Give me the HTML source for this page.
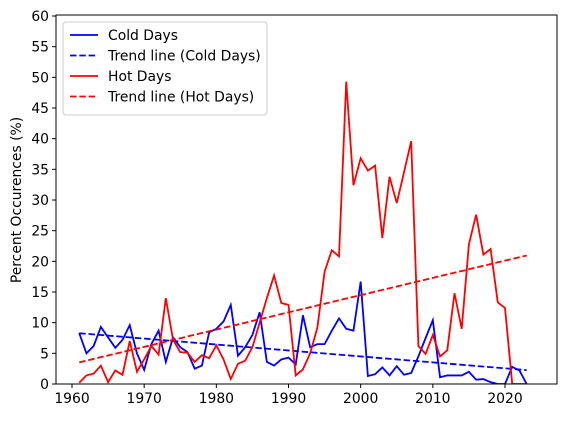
<!DOCTYPE html>
<html><head><meta charset="utf-8"><style>
body{margin:0;background:#fff;font-family:"Liberation Sans","DejaVu Sans",sans-serif}
svg text{font-family:"DejaVu Sans","Liberation Sans",sans-serif;font-size:13.9px;fill:#000}
</style></head><body>
<svg id="chart" width="563" height="418"></svg>
<script>
const years=[];for(let y=1961;y<=2023;y++)years.push(y);
const coldValues=[8.3,5.0,6.2,9.3,7.6,5.9,7.2,9.6,5.0,2.3,6.5,8.7,3.6,7.6,6.0,5.2,2.5,3.0,8.4,9.0,10.2,12.9,4.6,6.0,8.0,11.7,3.6,3.0,4.0,4.3,3.2,11.2,6.0,6.5,6.5,8.7,10.7,9.0,8.7,16.7,1.3,1.6,2.7,1.4,2.9,1.5,1.8,4.5,7.5,10.4,1.1,1.4,1.4,1.4,2.0,0.7,0.8,0.3,0,0,2.8,2.2,0];
const hotValues=[0.2,1.4,1.7,3.0,0.3,2.2,1.5,7.0,2.0,4.0,6.2,4.8,14.0,7.2,5.2,5.1,3.6,4.7,4.2,6.3,4.0,0.8,3.3,3.8,6.0,10.0,14.0,17.7,13.2,12.9,1.4,2.4,5.0,9.2,18.3,21.8,20.8,49.3,32.4,36.8,34.8,35.6,23.8,33.8,29.5,34.5,39.6,6.2,4.9,8.0,4.5,5.5,14.8,9.0,22.8,27.6,21.1,22.0,13.3,12.4,0,0,0];
const xTicks=[1960,1970,1980,1990,2000,2010,2020];
const yTicks=[0,5,10,15,20,25,30,35,40,45,50,55,60];
const L=56,R=557,T=15,B=384;
const X=y=>72+(y-1960)*(505-72)/60;
const Y=v=>B-v*(B-16)/60;
const svg=document.getElementById('chart');const NS='http://www.w3.org/2000/svg';
function mk(t,a,p){const e=document.createElementNS(NS,t);for(const k in a)e.setAttribute(k,a[k]);(p||svg).appendChild(e);return e;}
function fit(v){const n=years.length;let sx=0,sy=0,sxx=0,sxy=0;years.forEach((x,i)=>{sx+=x;sy+=v[i];sxx+=x*x;sxy+=x*v[i];});const m=(n*sxy-sx*sy)/(n*sxx-sx*sx);const b=(sy-m*sx)/n;return x=>m*x+b;}
const clip=mk('clipPath',{id:'pc'});mk('rect',{x:L,y:T,width:R-L,height:B-T},clip);
function series(v,color,name){
  const p=mk('polyline',{points:years.map((y,i)=>X(y)+','+Y(v[i])).join(' '),fill:'none',stroke:color,'stroke-width':1.8,'clip-path':'url(#pc)'});
  
  
  const f=fit(v);const y0=years[0],y1=years[years.length-1];
  const t=mk('line',{x1:X(y0),y1:Y(f(y0)),x2:X(y1),y2:Y(f(y1)),stroke:color,'stroke-width':1.8,'stroke-dasharray':'6.5,2.8','clip-path':'url(#pc)'});
  
  
}
series(coldValues,'#0000ff','cold-days');
series(hotValues,'#ff0000','hot-days');
const frame=mk('rect',{x:L,y:T,width:R-L,height:B-T,fill:'none',stroke:'#000','stroke-width':1});


xTicks.forEach(t=>{mk('line',{x1:X(t),y1:B,x2:X(t),y2:B+4,stroke:'#000'});
  const tx=mk('text',{x:X(t),y:B+19,'text-anchor':'middle'});tx.textContent=t;
  
  });
yTicks.forEach(t=>{mk('line',{x1:L-4,y1:Y(t),x2:L,y2:Y(t),stroke:'#000'});
  const tx=mk('text',{x:L-7,y:Y(t)+5,'text-anchor':'end'});tx.textContent=t;
  
  });
const yl=mk('text',{x:21,y:200,'text-anchor':'middle',transform:'rotate(-90 21 200)'});yl.textContent='Percent Occurences (%)';


const lg=mk('g',{});


mk('rect',{x:63,y:22,width:204,height:93,rx:3,fill:'#fff',stroke:'#ccc'},lg);
const items=[['Cold Days','#0000ff',false],['Trend line (Cold Days)','#0000ff',true],['Hot Days','#ff0000',false],['Trend line (Hot Days)','#ff0000',true]];
items.forEach((it,i)=>{const y=35+i*20.5;
  const a={x1:70,y1:y,x2:98,y2:y,stroke:it[1],'stroke-width':1.8};
  if(it[2])a['stroke-dasharray']='6.5,2.8';
  mk('line',a,lg);
  const tx=mk('text',{x:108,y:y+5},lg);tx.textContent=it[0];
  
  });
</script>
</body></html>
